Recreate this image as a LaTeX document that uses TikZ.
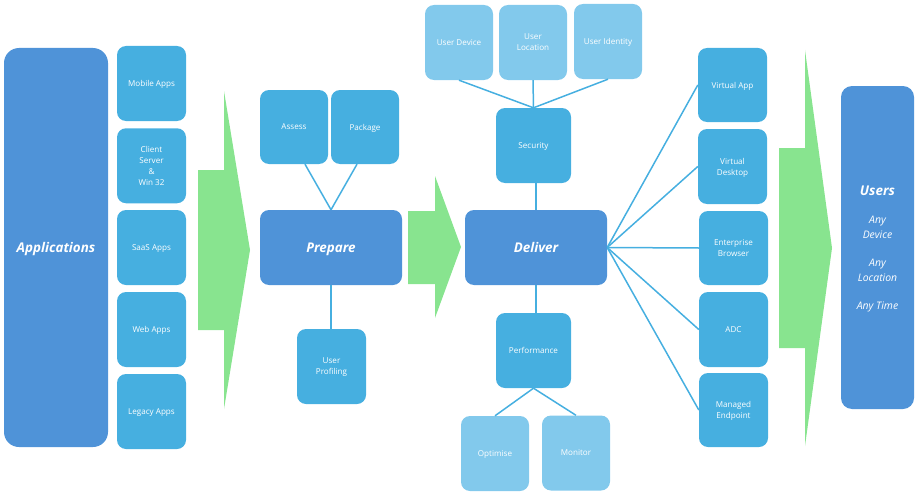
\documentclass[tikz,border=0pt]{standalone}
\usepackage{fontspec}
\setmainfont{Open Sans}
\definecolor{mainblue}{HTML}{4F93D8}
\definecolor{midblue}{HTML}{46AFE0}
\definecolor{lightblue}{HTML}{82C9EC}
\definecolor{flowgreen}{HTML}{88E48F}
\tikzset{
  basebox/.style={rounded corners=9pt,align=center,text=white,inner sep=0pt,text depth=-1pt,font=\fontsize{8.1}{11}\selectfont},
  sidebox/.style={basebox,fill=midblue,minimum width=69pt,minimum height=75pt},
  leafbox/.style={basebox,fill=lightblue,minimum width=68pt,minimum height=75pt},
  hubbox/.style={basebox,fill=mainblue,minimum width=142pt,minimum height=75pt,font=\fontsize{13.4}{15}\selectfont\bfseries\itshape},
  link/.style={draw=midblue,line width=1.5pt},
  flow/.style={fill=flowgreen,draw=none}
}
\begin{document}
\begin{tikzpicture}[x=1pt,y=-1pt]
\useasboundingbox (0,0) rectangle (918,495);
% flow arrows
\fill[flow] (198,170) -- (224,170) -- (224,91) -- (250,250) -- (224,409) -- (224,330) -- (198,330) -- cycle;
\fill[flow] (408,211) -- (435,211) -- (435,176) -- (461,247) -- (435,318) -- (435,284) -- (408,284) -- cycle;
\fill[flow] (779,148) -- (805,148) -- (805,50) -- (832,248) -- (805,446) -- (805,348) -- (779,348) -- cycle;
% left
\node[basebox,fill=mainblue,rounded corners=15pt,minimum width=104pt,minimum height=399pt,font=\fontsize{13.4}{15}\selectfont\bfseries\itshape] (apps) at (56,247.5) {Applications};
\node[sidebox] (mobile) at (151.5,83.5) {Mobile Apps};
\node[sidebox] (client) at (151.5,165.75) {Client\\Server\\\&\\Win 32};
\node[sidebox] (saas) at (151.5,247.5) {SaaS Apps};
\node[sidebox] (web) at (151.5,329.5) {Web Apps};
\node[sidebox] (legacy) at (151.5,411.5) {Legacy Apps};
% prepare
\node[hubbox] (prepare) at (331,247.5) {Prepare};
\node[sidebox,minimum width=68pt,minimum height=74pt] (assess) at (294,127) {Assess};
\node[sidebox,minimum width=68pt,minimum height=74pt] (package) at (365,127) {Package};
\node[sidebox] (profiling) at (331.5,366.5) {User\\Profiling};
% deliver
\node[hubbox] (deliver) at (536,247.5) {Deliver};
\node[sidebox,minimum width=75pt] (security) at (533.5,145.5) {Security};
\node[sidebox,minimum width=75pt] (performance) at (533.5,350.5) {Performance};
\node[leafbox] (device) at (459,42.5) {User Device};
\node[leafbox] (location) at (533,42.5) {User\\Location};
\node[leafbox] (identity) at (608,41.5) {User Identity};
\node[leafbox] (optimise) at (495,453.5) {Optimise};
\node[leafbox] (monitor) at (576,453) {Monitor};
% right
\node[sidebox,minimum height=74pt] (vapp) at (732.5,85) {Virtual App};
\node[sidebox] (vdesk) at (732.5,166.5) {Virtual\\Desktop};
\node[sidebox,minimum height=74pt] (browser) at (733.5,248) {Enterprise\\Browser};
\node[sidebox] (adc) at (733.5,329.5) {ADC};
\node[sidebox,minimum height=74pt] (managed) at (733.5,410) {Managed\\Endpoint};
% users
\node[basebox,fill=mainblue,rounded corners=11pt,minimum width=73pt,minimum height=323pt,font=\fontsize{10.4}{15}\selectfont\itshape] (users) at (877.5,247.5) {{\fontsize{13.4}{15}\selectfont\bfseries Users}\\[13pt]Any\\Device\\[13pt]Any\\Location\\[13pt]Any Time};
% connectors
\draw[link] ([xshift=11pt]assess.south) -- (prepare.north);
\draw[link] ([xshift=-8pt]package.south) -- (prepare.north);
\draw[link] (prepare.south) -- (prepare.south |- profiling.north);
\draw[link] (deliver.north) -- (deliver.north |- security.south);
\draw[link] (deliver.south) -- (deliver.south |- performance.north);
\draw[link] (device.south) -- (security.north);
\draw[link] (location.south) -- (security.north);
\draw[link] (identity.south) -- (security.north);
\draw[link] (performance.south) -- (optimise.north);
\draw[link] (performance.south) -- (monitor.north);
\draw[link] (deliver.east) -- (vapp.west);
\draw[link] (deliver.east) -- (vdesk.west);
\draw[link] (deliver.east) -- (browser.west);
\draw[link] (deliver.east) -- (adc.west);
\draw[link] (deliver.east) -- (managed.west);
\end{tikzpicture}
\end{document}
